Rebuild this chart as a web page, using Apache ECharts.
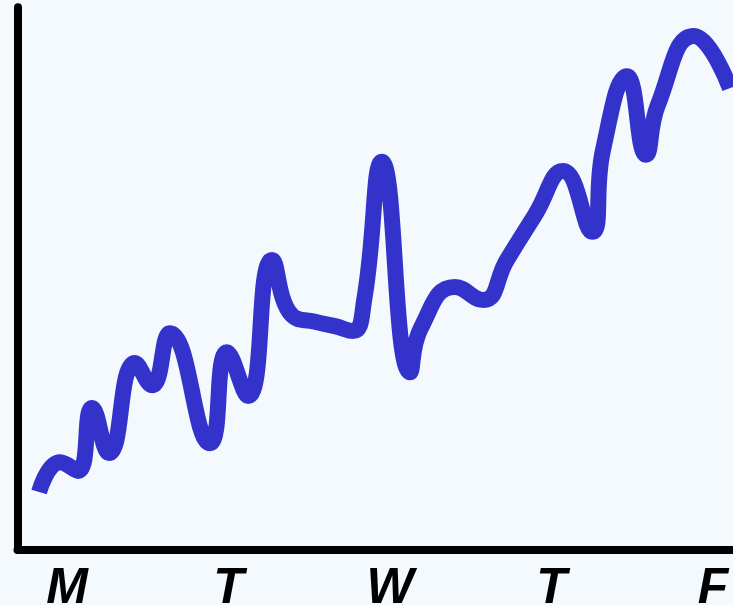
<!DOCTYPE html>
<html>
<head>
<meta charset="utf-8">
<script src="https://cdn.jsdelivr.net/npm/echarts@6/dist/echarts.min.js"></script>
<style>
  html, body { margin: 0; padding: 0; background: #f4f9fd; }
  #chart { width: 733px; height: 605px; }
</style>
</head>
<body>
<div id="chart"></div>
<script>
// Day labels along the bottom axis (positions are day indices 0..4)
const dayLabels = ['M', 'T', 'W', 'T', 'F'];
const dayTicks = [0, 1, 2, 3, 4];

// Samples across the week: time in days (fractional) and level
const sampleTimes = [
  -0.173, -0.043, 0.068, 0.155, 0.260, 0.421, 0.526, 0.638, 0.885, 0.991,
  1.121, 1.269, 1.393, 1.536, 1.659, 1.771, 1.840, 1.950, 2.124, 2.192,
  2.402, 2.576, 2.724, 2.898, 3.071, 3.251, 3.319, 3.467, 3.585, 3.659,
  3.882, 4.105
];
const sampleLevels = [
  10.6, 16.1, 14.5, 26.1, 17.8, 34.4, 30.3, 39.9, 19.6, 36.4,
  28.3, 53.4, 43.2, 42.0, 41.2, 40.3, 46.0, 71.5, 32.7, 40.9,
  48.4, 46.0, 53.4, 61.7, 69.8, 58.6, 73.7, 87.3, 72.8, 82.0,
  94.7, 85.1
];

const points = sampleTimes.map((t, i) => [t, sampleLevels[i]]);

const chart = echarts.init(document.getElementById('chart'), null, { renderer: 'canvas' });
chart.setOption({
  backgroundColor: '#f4f9fd',
  animation: false,
  grid: {
    left: 17.5, right: 0, top: 7.3, bottom: 55.5,
    containLabel: false,
    outerBoundsMode: 'none'
  },
  xAxis: {
    type: 'value',
    min: -0.3065,
    max: 4.124,
    splitLine: { show: false },
    axisTick: { show: false },
    axisLine: {
      show: true,
      onZero: false,
      lineStyle: { color: '#000', width: 8, cap: 'round' }
    },
    axisLabel: {
      show: true,
      customValues: dayTicks,
      formatter: (v) => dayLabels[Math.round(v)],
      margin: 15,
      color: '#000',
      fontFamily: '"Liberation Sans", Arial, sans-serif',
      fontWeight: 'bold',
      fontStyle: 'italic',
      fontSize: 50
    }
  },
  yAxis: {
    type: 'value',
    min: 0,
    max: 100,
    splitLine: { show: false },
    axisTick: { show: false },
    axisLabel: { show: false },
    axisLine: {
      show: true,
      onZero: false,
      lineStyle: { color: '#000', width: 8 }
    }
  },
  series: [{
    type: 'line',
    data: points,
    smooth: 0.5,
    showSymbol: false,
    symbol: 'none',
    lineStyle: { color: '#3333cc', width: 16, cap: 'butt', join: 'round' }
  }]
});
</script>
</body>
</html>
